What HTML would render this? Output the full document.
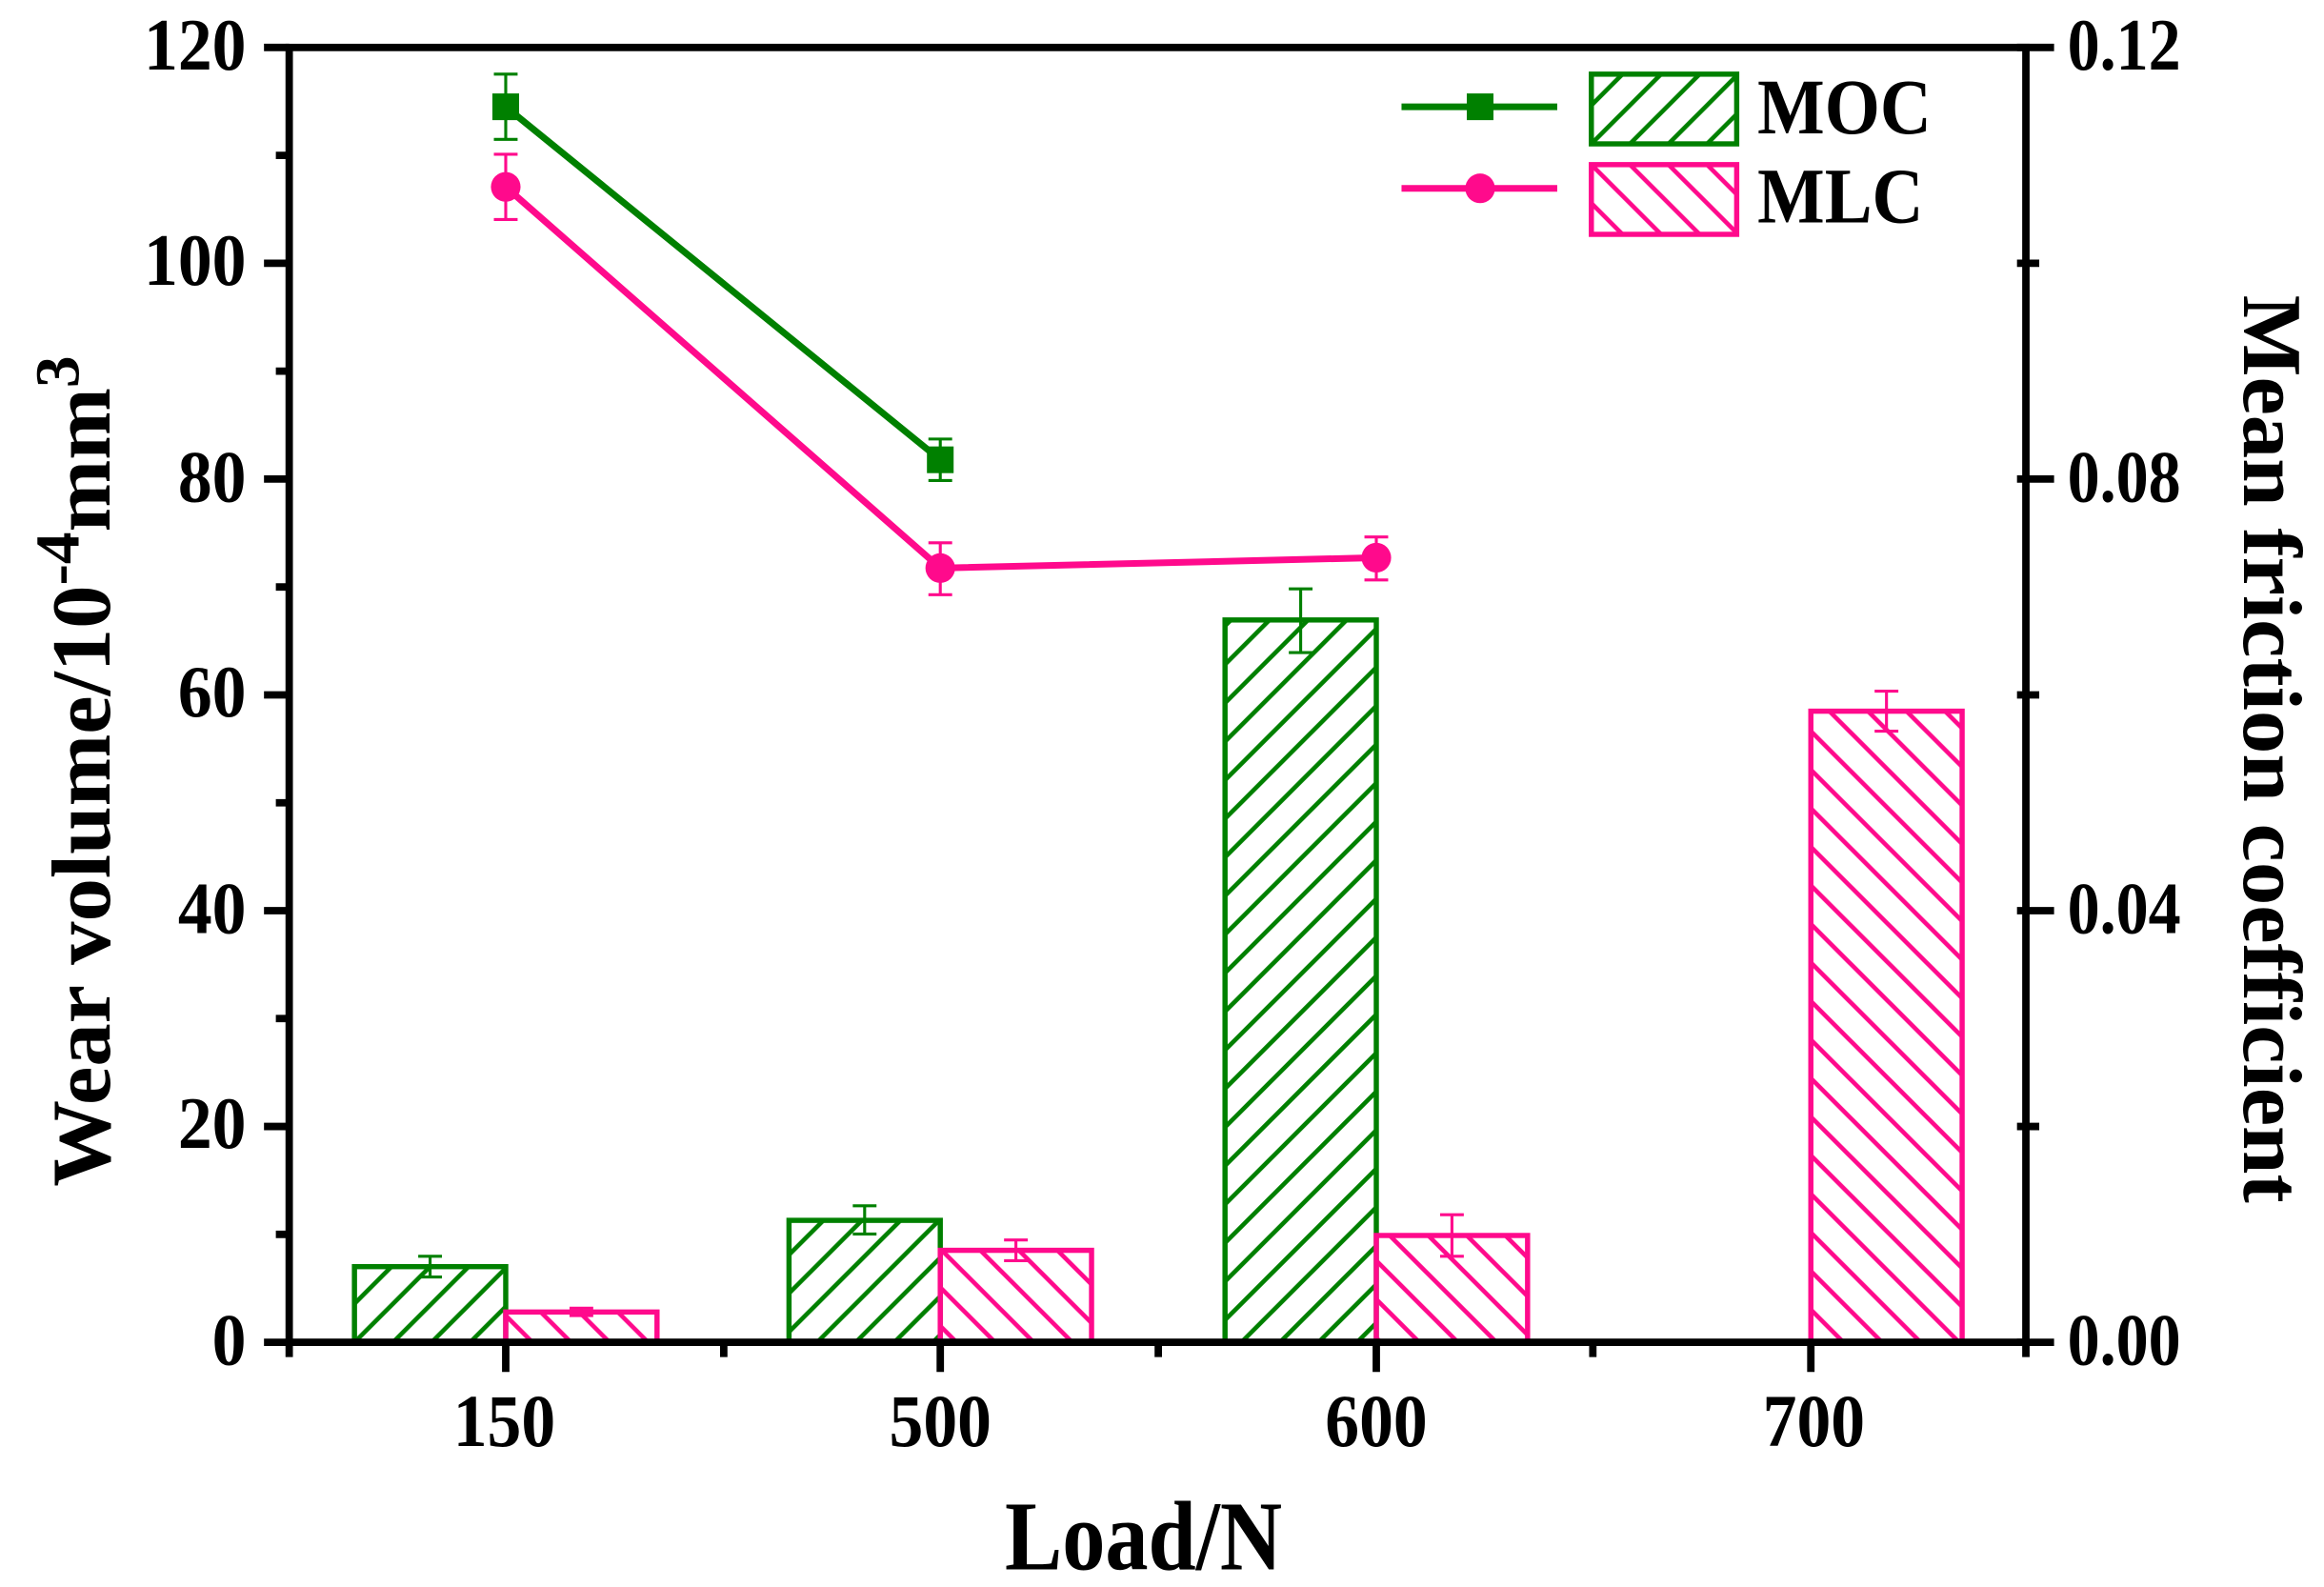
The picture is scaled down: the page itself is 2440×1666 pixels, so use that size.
<!DOCTYPE html>
<html><head><meta charset="utf-8"><style>html,body{margin:0;padding:0;background:#fff}svg{display:block}</style></head><body>
<svg width="2440" height="1666" viewBox="0 0 1567 1070" preserveAspectRatio="none" xmlns="http://www.w3.org/2000/svg" font-family="Liberation Serif, serif" font-weight="bold">
<defs>
<pattern id="hg" patternUnits="userSpaceOnUse" width="26" height="26">
<path d="M-6,32 L32,-6 M-19,19 L19,-19 M7,45 L45,7" stroke="#008000" stroke-width="3"/>
</pattern>
<pattern id="hp" patternUnits="userSpaceOnUse" width="26" height="26">
<path d="M-6,-6 L32,32 M-19,7 L19,45 M7,-19 L45,19" stroke="#ff0a8c" stroke-width="3"/>
</pattern>
</defs>
<rect width="1567" height="1070" fill="#fff"/>
<g stroke-width="3.5">
<rect x="239" y="854" width="102" height="51" fill="url(#hg)" stroke="#008000"/>
<rect x="341" y="884.6" width="102" height="20.4" fill="url(#hp)" stroke="#ff0a8c"/>
<rect x="532" y="822.8" width="102" height="82.2" fill="url(#hg)" stroke="#008000"/>
<rect x="634" y="843" width="102" height="62" fill="url(#hp)" stroke="#ff0a8c"/>
<rect x="826" y="418" width="102" height="487" fill="url(#hg)" stroke="#008000"/>
<rect x="928" y="833" width="102" height="72" fill="url(#hp)" stroke="#ff0a8c"/>
<rect x="1221" y="479.5" width="102" height="425.5" fill="url(#hp)" stroke="#ff0a8c"/>
</g>
<g stroke-width="2" fill="none">
<path d="M290,847 V861 M282,847 H298 M282,861 H298" stroke="#008000"/>
<path d="M392,882 V887 M384,882 H400 M384,887 H400" stroke="#ff0a8c"/>
<path d="M583,813 V832 M575,813 H591 M575,832 H591" stroke="#008000"/>
<path d="M685,836 V850 M677,836 H693 M677,850 H693" stroke="#ff0a8c"/>
<path d="M877,397 V440 M869,397 H885 M869,440 H885" stroke="#008000"/>
<path d="M979,819 V847 M971,819 H987 M971,847 H987" stroke="#ff0a8c"/>
<path d="M1272,466 V493 M1264,466 H1280 M1264,493 H1280" stroke="#ff0a8c"/>
</g>
<polyline points="341,72 634,310" fill="none" stroke="#008000" stroke-width="4.5"/>
<polyline points="341,126 634,383 928,376" fill="none" stroke="#ff0a8c" stroke-width="4.5"/>
<g stroke-width="2" fill="none">
<path d="M341,50 V94 M333,50 H349 M333,94 H349" stroke="#008000"/>
<path d="M634,296 V324 M626,296 H642 M626,324 H642" stroke="#008000"/>
<path d="M341,104 V148 M333,104 H349 M333,148 H349" stroke="#ff0a8c"/>
<path d="M634,366 V401 M626,366 H642 M626,401 H642" stroke="#ff0a8c"/>
<path d="M928,362 V391 M920,362 H936 M920,391 H936" stroke="#ff0a8c"/>
</g>
<rect x="332" y="63" width="18" height="18" fill="#008000"/>
<rect x="625" y="301" width="18" height="18" fill="#008000"/>
<circle cx="341" cy="126" r="10" fill="#ff0a8c"/>
<circle cx="634" cy="383" r="10" fill="#ff0a8c"/>
<circle cx="928" cy="376" r="10" fill="#ff0a8c"/>
<g stroke="#000" stroke-width="5" fill="none">
<rect x="195" y="32" width="1171" height="873"/>
<path d="M178,32 H195 M178,177.5 H195 M178,323 H195 M178,468.5 H195 M178,614 H195 M178,759.5 H195 M178,905 H195"/>
<path d="M186,104.75 H195 M186,250.25 H195 M186,395.75 H195 M186,541.25 H195 M186,686.75 H195 M186,832.25 H195"/>
<path d="M1360,32 H1385 M1360,323 H1385 M1360,614 H1385 M1360,905 H1385 M1360,177.5 H1375 M1360,468.5 H1375 M1360,759.5 H1375"/>
<path d="M341,905 V925 M634,905 V925 M928,905 V925 M1221,905 V925 M195,905 V915 M488,905 V915 M781,905 V915 M1074,905 V915 M1366,905 V915"/>
</g>
<g font-size="46" fill="#000">
<g text-anchor="end">
<text transform="translate(166,47) scale(1,1.08)">120</text>
<text transform="translate(166,192) scale(1,1.08)">100</text>
<text transform="translate(166,338) scale(1,1.08)">80</text>
<text transform="translate(166,483) scale(1,1.08)">60</text>
<text transform="translate(166,629) scale(1,1.08)">40</text>
<text transform="translate(166,774) scale(1,1.08)">20</text>
<text transform="translate(166,920) scale(1,1.08)">0</text>
</g>
<text transform="translate(1394,47) scale(0.95,1.08)">0.12</text>
<text transform="translate(1394,338) scale(0.95,1.08)">0.08</text>
<text transform="translate(1394,629) scale(0.95,1.08)">0.04</text>
<text transform="translate(1394,920) scale(0.95,1.08)">0.00</text>
<g text-anchor="middle">
<text transform="translate(340,975) scale(1,1.1)">150</text>
<text transform="translate(634,975) scale(1,1.1)">500</text>
<text transform="translate(928,975) scale(1,1.1)">600</text>
<text transform="translate(1223,975) scale(1,1.1)">700</text>
</g>
</g>
<text transform="translate(771,1058) scale(1,1.15)" font-size="58" text-anchor="middle">Load/N</text>
<text transform="translate(74,520) rotate(-90) scale(1.08,1.05)" font-size="54" text-anchor="middle">Wear volume/10<tspan dy="-20" font-size="40">-4</tspan><tspan dy="20">mm</tspan><tspan dy="-20" font-size="40">3</tspan></text>
<text transform="translate(1513,505) rotate(90) scale(1.08,1.05)" font-size="54" text-anchor="middle">Mean friction coefficient</text>
<path d="M945,72 H1050" stroke="#008000" stroke-width="4.5"/>
<rect x="989" y="63" width="18" height="18" fill="#008000"/>
<path d="M945,127 H1050" stroke="#ff0a8c" stroke-width="4.5"/>
<circle cx="998" cy="127" r="10" fill="#ff0a8c"/>
<rect x="1073" y="50" width="98" height="47" fill="url(#hg)" stroke="#008000" stroke-width="3.5"/>
<rect x="1073" y="111" width="98" height="47" fill="url(#hp)" stroke="#ff0a8c" stroke-width="3.5"/>
<text transform="translate(1185,90) scale(1,1.1)" font-size="48">MOC</text>
<text transform="translate(1185,150) scale(1,1.1)" font-size="48">MLC</text>
</svg>
</body></html>
